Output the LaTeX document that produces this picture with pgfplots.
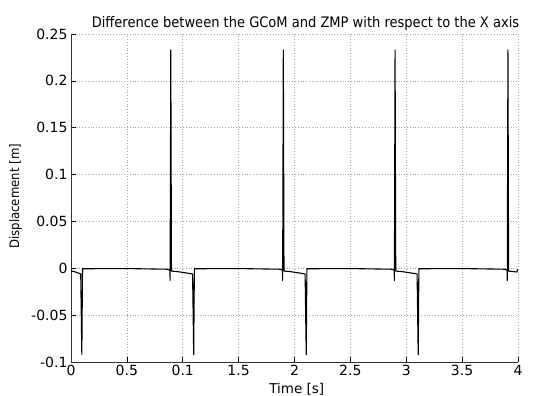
\documentclass[border=0pt]{standalone}
\usepackage{pgfplots}
\pgfplotsset{compat=1.18}
\usepackage{fontspec}
\setmainfont{DejaVu Sans}
\newfontfamily\condensed{DejaVu Sans Condensed}
\begin{document}
\begin{tikzpicture}
\begin{axis}[
  scale only axis,
  width=447pt, height=328pt,
  at={(0,0)}, anchor=south west,
  xmin=0, xmax=4, ymin=-0.1, ymax=0.25,
  axis lines=left,
  axis line style={-, line width=0.8pt, black!80},
  xtick={0,0.5,1,1.5,2,2.5,3,3.5,4},
  xticklabels={0,0.5,0.1,1.5,2,2.5,3,3.5,4},
  ytick={-0.1,-0.05,0,0.05,0.1,0.15,0.2,0.25},
  yticklabels={-0.1,-0.05,0,0.05,0.1,0.15,0.2,0.25},
  tick align=inside,
  major tick length=5pt,
  tick style={black, line width=0.6pt},
  tick label style={font=\fontsize{14}{16}\selectfont},
  grid=major,
  major grid style={gray!70, line width=0.6pt, dash pattern=on 0.8pt off 2pt},
  xlabel={Time [s]},
  ylabel={Displacement [m]},
  xlabel style={font=\fontsize{13.5}{15}\selectfont, at={(0.505,0)}, anchor=north, inner sep=0pt, yshift=-21pt},
  ylabel style={font=\condensed\fontsize{13}{15}\selectfont, at={(0,0.505)}, anchor=south, inner sep=0pt, yshift=49pt},
  clip=false,
]
\addplot[black, line width=1.1pt, line join=round] coordinates {
(0,-0.0025) (0.04,-0.004) (0.087,-0.006) (0.097,-0.092) (0.103,-0.0005)
(0.5,-0.0003) (0.86,-0.001) (0.885,-0.002) (0.887,-0.013) (0.893,0.233) (0.899,-0.003)
(0.95,-0.0035) (1.088,-0.006) (1.098,-0.092) (1.104,-0.0005)
(1.5,-0.0003) (1.87,-0.001) (1.892,-0.002) (1.894,-0.013) (1.9,0.233) (1.906,-0.003)
(1.96,-0.0035) (2.095,-0.006) (2.105,-0.092) (2.111,-0.0005)
(2.5,-0.0003) (2.87,-0.001) (2.892,-0.002) (2.894,-0.013) (2.9,0.233) (2.906,-0.003)
(2.96,-0.0035) (3.097,-0.006) (3.107,-0.092) (3.113,-0.0005)
(3.5,-0.0003) (3.88,-0.001) (3.902,-0.002) (3.904,-0.013) (3.91,0.233) (3.916,-0.003)
(3.96,-0.0035) (3.99,-0.004) (3.996,-0.0015) (4,-0.0015)
};
\node[font=\condensed\fontsize{14.5}{16}\selectfont, anchor=base west, inner sep=0pt] at ([yshift=6pt]rel axis cs:0.046,1) {Difference between the GCoM and ZMP with respect to the X axis};
\end{axis}
\pgfresetboundingbox
\path[use as bounding box] (-71pt,-34pt) rectangle (465pt,362pt);
\end{tikzpicture}
\end{document}
